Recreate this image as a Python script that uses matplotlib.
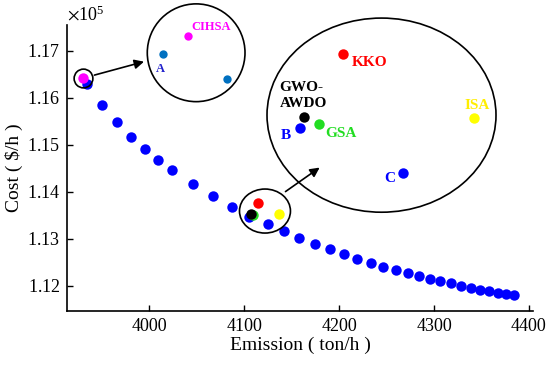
import matplotlib
matplotlib.use("Agg")
import matplotlib.pyplot as plt
from matplotlib.patches import Ellipse

plt.rcParams["font.family"] = ["Liberation Serif", "DejaVu Serif"]
plt.rcParams["mathtext.fontset"] = "stix"

# Pareto front (emission ton/h, cost $/h)
emission = [3934.0, 3949.8, 3965.6, 3980.4, 3995.8, 4009.2, 4024.2, 4046.0,
            4066.8, 4087.4, 4105.1, 4125.1, 4141.9, 4158.1, 4174.9, 4190.4,
            4205.2, 4219.2, 4233.9, 4246.6, 4259.6, 4272.3, 4284.2, 4295.8,
            4306.6, 4317.9, 4328.1, 4338.7, 4348.5, 4358.3, 4367.8, 4376.2,
            4384.3]
cost = [116297, 115850, 115480, 115160, 114910, 114680, 114465, 114167,
        113917, 113687, 113474, 113321, 113159, 113016, 112895, 112775,
        112669, 112575, 112490, 112405, 112328, 112264, 112200, 112143,
        112094, 112051, 112000, 111957, 111915, 111881, 111851, 111823,
        111795]

# compromise solutions of the other methods
methods = ["CIHSA", "KKO", "GSA", "GWO-AWDO", "ISA"]
method_emission = [3930.5, 4114.2, 4109.6, 4107.2, 4137.0]
method_cost = [116418, 113768, 113506, 113521, 113534]
method_colors = ["#ff00ff", "#ff0000", "#22dd22", "#000000", "#ffff00"]

# zoomed views (positions inside each inset, 0..1)
inset1_names = ["A", "CIHSA", ""]
inset1_x = [0.164, 0.420, 0.813]
inset1_y = [0.488, 0.672, 0.232]
inset1_colors = ["#0070c0", "#ff00ff", "#0070c0"]

inset2_names = ["KKO", "GWO-\nAWDO", "B", "GSA", "ISA", "C"]
inset2_x = [0.331, 0.163, 0.144, 0.228, 0.903, 0.593]
inset2_y = [0.816, 0.493, 0.435, 0.452, 0.486, 0.203]
inset2_colors = ["#ff0000", "#000000", "#0000ff", "#22dd22", "#ffff00", "#0000ff"]

fig = plt.figure(figsize=(5.5, 3.66), dpi=100)
ax = fig.add_axes([0.1218, 0.150, 0.8473, 0.782])

ax.plot(emission, cost, "o", color="#0000ff", ms=7.5, mec="none", zorder=2)
for x, y, c in zip(method_emission, method_cost, method_colors):
    ax.plot(x, y, "o", color=c, ms=7.5, mec="none", zorder=3)

# ring around CIHSA and ellipse around the cluster
ax.plot(method_emission[0], method_cost[0], "o", mfc="none", mec="black",
        ms=13.5, mew=1.2, zorder=4)
ax.add_patch(Ellipse((4121.9, 113591), 53.7, 937, fill=False, ec="black",
                     lw=1.2, zorder=4))

ax.set_xlim(3913.3, 4404.3)
ax.set_ylim(111461, 117554)
ax.set_xticks([4000, 4100, 4200, 4300, 4400])
ax.set_yticks([112000, 113000, 114000, 115000, 116000, 117000])
ax.ticklabel_format(axis="y", style="sci", scilimits=(5, 5),
                    useMathText=True, useOffset=False)
ax.yaxis.get_offset_text().set_fontsize(13)
ax.tick_params(direction="in", length=4, width=1, labelsize=13, pad=5)
for s in ("top", "right"):
    ax.spines[s].set_visible(False)
for s in ("left", "bottom"):
    ax.spines[s].set_linewidth(1.2)
ax.set_xlabel("Emission ( ton/h )", fontsize=14, labelpad=1)
ax.set_ylabel("Cost ( $/h )", fontsize=14, labelpad=3)


def draw_inset(bounds, xs, ys, cols, size):
    ins = ax.inset_axes(bounds)
    ins.set_xlim(0, 1)
    ins.set_ylim(0, 1)
    ins.axis("off")
    ins.add_patch(Ellipse((0.5, 0.5), 1, 1, fill=False, ec="black", lw=1.2,
                          transform=ins.transAxes, clip_on=False))
    for x, y, c in zip(xs, ys, cols):
        ins.plot(x, y, "o", color=c, ms=size, mec="none", clip_on=False)
    return ins


ins1 = draw_inset([0.1723, 0.7318, 0.2097, 0.3416], inset1_x, inset1_y,
                  inset1_colors, 6.0)
lab1 = dict(fontsize=9, fontweight="bold", va="center")
ins1.text(0.130, 0.330, "A", color="#2222cc", ha="center", **lab1)
ins1.text(0.447, 0.768, "CIHSA", color="#ff00ff", ha="left", **lab1)

ins2 = draw_inset([0.4292, 0.3455, 0.4914, 0.6783], inset2_x, inset2_y,
                  inset2_colors, 7.5)
lab2 = dict(fontsize=11, fontweight="bold", va="center")
ins2.text(0.371, 0.773, "KKO", color="#ff0000", ha="left", **lab2)
ins2.text(0.054, 0.601, "GWO-\nAWDO", color="#000000", ha="left",
          multialignment="left", linespacing=1.35, **lab2)
ins2.text(0.083, 0.395, "B", color="#0000ff", ha="center", **lab2)
ins2.text(0.253, 0.404, "GSA", color="#22dd22", ha="left", **lab2)
ins2.text(0.920, 0.549, "ISA", color="#ffee00", ha="center", **lab2)
ins2.text(0.534, 0.172, "C", color="#0000ff", ha="center", **lab2)

arrow = dict(arrowstyle="-|>", color="black", lw=1.2, mutation_scale=14)
ax.annotate("", xy=(0.171, 0.874), xytext=(0.053, 0.822),
            xycoords="axes fraction", arrowprops=arrow, annotation_clip=False)
ax.annotate("", xy=(0.547, 0.507), xytext=(0.464, 0.412),
            xycoords="axes fraction", arrowprops=arrow, annotation_clip=False)

fig.savefig("out.png", dpi=100)
